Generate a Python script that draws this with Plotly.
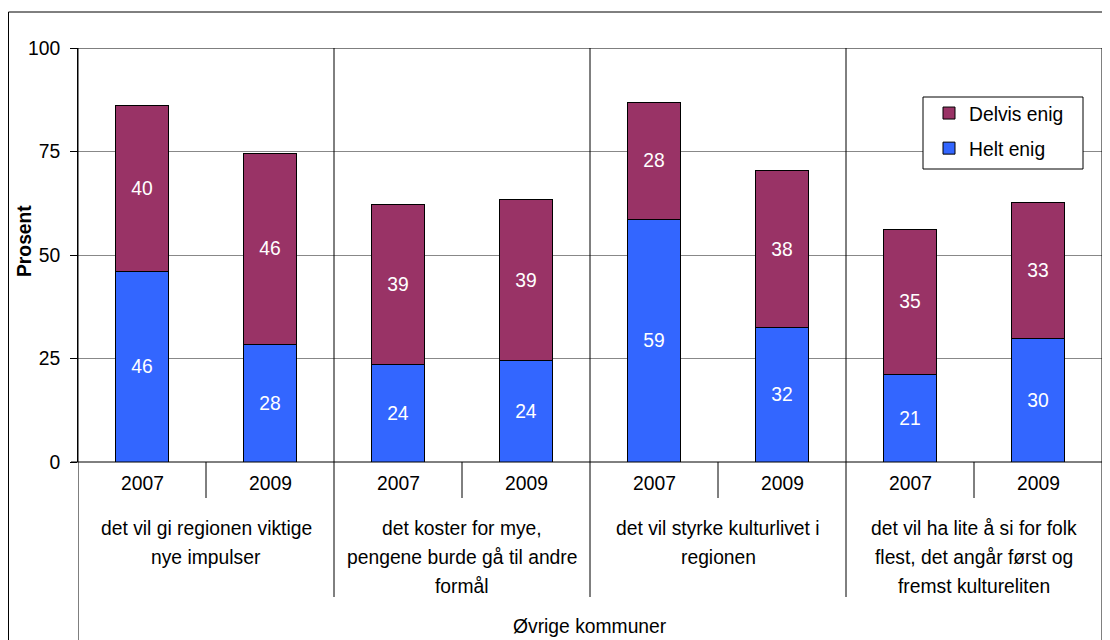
import plotly.graph_objects as go

# ---- data ----
years = ["2007", "2009", "2007", "2009", "2007", "2009", "2007", "2009"]
groups = [
    "det vil gi regionen viktige<br>nye impulser",
    "det koster for mye,<br>pengene burde gå til andre<br>formål",
    "det vil styrke kulturlivet i<br>regionen",
    "det vil ha lite å si for folk<br>flest, det angår først og<br>fremst kultureliten",
]
region = "Øvrige kommuner"
helt_enig = [46.1, 28.4, 23.6, 24.4, 58.6, 32.4, 21.2, 29.8]
delvis_enig = [40.1, 46.2, 38.6, 38.9, 28.3, 38.0, 35.0, 33.0]
y_ticks = [0, 25, 50, 75, 100]

FONT = "Liberation Sans, Arial, sans-serif"
FS = 19.3
OFF = 8  # default page body margin
W, H = 1110 - OFF, 640 - OFF
L, R, T, B = 70, 8, 40, 178
PW = W - L - R
PH = H - T - B
BOTTOM = OFF + T + PH  # page y of plot bottom
LEFT = OFF + L          # page x of plot left

def py(Y):
    return (BOTTOM - Y) / PH

def px(X):
    return (X - LEFT) / PW

xpos = [i + 0.5 for i in range(len(years))]

fig = go.Figure()
fig.add_trace(go.Bar(
    x=xpos, y=helt_enig, name="Helt enig", width=0.41, legendgroup="g2", legendrank=2,
    marker=dict(color="#3366FF", line=dict(color="black", width=1)),
    texttemplate="%{y:.0f}", textposition="inside", insidetextanchor="middle",
    textangle=0, textfont=dict(color="white", size=FS, family=FONT),
))
fig.add_trace(go.Bar(
    x=xpos, y=delvis_enig, name="Delvis enig", width=0.41, legendgroup="g1", legendrank=1,
    marker=dict(color="#993366", line=dict(color="black", width=1)),
    texttemplate="%{y:.0f}", textposition="inside", insidetextanchor="middle",
    textangle=0, textfont=dict(color="white", size=FS, family=FONT),
))

n = len(years)
shapes = []
line_black = dict(color="black", width=1)
shapes.append(dict(type="line", xref="x", yref="y", x0=0, x1=n, y0=100, y1=100, line=line_black, layer="above"))
shapes.append(dict(type="line", xref="x", yref="paper", x0=0, x1=0, y0=1, y1=py(645), line=line_black))
shapes.append(dict(type="line", xref="x", yref="paper", x0=n, x1=n, y0=1, y1=py(645), line=line_black))
for g in range(1, len(groups)):
    shapes.append(dict(type="line", xref="x", yref="paper", x0=2 * g, x1=2 * g, y0=1, y1=py(597), line=line_black))
for g in range(len(groups)):
    xs = 2 * g + 1
    shapes.append(dict(type="line", xref="x", yref="paper", x0=xs, x1=xs, y0=0, y1=py(498), line=line_black))
shapes.append(dict(type="line", xref="paper", yref="paper", x0=px(71), x1=1, y0=0, y1=0, line=line_black))
# outer border (left and top visible)
shapes.append(dict(type="line", xref="paper", yref="paper", x0=px(8.5), x1=px(1115), y0=py(12), y1=py(12), line=line_black))
shapes.append(dict(type="line", xref="paper", yref="paper", x0=px(8.5), x1=px(8.5), y0=py(12), y1=py(645), line=line_black))
# legend frame
shapes.append(dict(type="rect", xref="paper", yref="paper", x0=px(923), x1=px(1083), y0=py(97), y1=py(169),
                   line=line_black, fillcolor="white", layer="above"))

annotations = []
for i, yr in enumerate(years):
    annotations.append(dict(x=xpos[i], y=py(483), xref="x", yref="paper", text=yr,
                            showarrow=False, font=dict(size=FS, family=FONT, color="black"),
                            xanchor="center", yanchor="middle"))
for g, lab in enumerate(groups):
    for k, ln in enumerate(lab.split("<br>")):
        annotations.append(dict(x=2 * g + 1, y=py(528 + 29 * k), xref="x", yref="paper", text=ln,
                                showarrow=False, font=dict(size=FS, family=FONT, color="black"),
                                xanchor="center", yanchor="middle"))
annotations.append(dict(x=n / 2, y=py(626), xref="x", yref="paper", text=region,
                        showarrow=False, font=dict(size=FS, family=FONT, color="black"),
                        xanchor="center", yanchor="middle"))
annotations.append(dict(x=px(25), y=py(241), xref="paper", yref="paper", text="<b>Prosent</b>",
                        textangle=-90, showarrow=False, font=dict(size=FS, family=FONT, color="black"),
                        xanchor="center", yanchor="middle"))

fig.update_layout(
    width=W, height=H,
    margin=dict(l=L, r=R, t=T, b=B),
    barmode="stack",
    paper_bgcolor="white", plot_bgcolor="white",
    font=dict(family=FONT, size=FS, color="black"),
    xaxis=dict(range=[0, n], showticklabels=False, ticks="", showgrid=False, zeroline=False,
               showline=False, fixedrange=True),
    yaxis=dict(range=[0, 100], tickvals=y_ticks, ticks="outside", ticklen=7, tickcolor="black",
               showline=True, linecolor="black", linewidth=1, showgrid=True, gridcolor="#888888",
               gridwidth=1, zeroline=False, ticklabelstandoff=6,
               tickfont=dict(size=FS, family=FONT, color="black")),
    legend=dict(x=px(929), y=py(94), xanchor="left", yanchor="top",
                borderwidth=0, bgcolor="rgba(0,0,0,0)",
                traceorder="grouped", tracegroupgap=7,
                font=dict(size=FS, family=FONT, color="black")),
    shapes=shapes,
    annotations=annotations,
    showlegend=True,
)

fig.write_html("out.html")
